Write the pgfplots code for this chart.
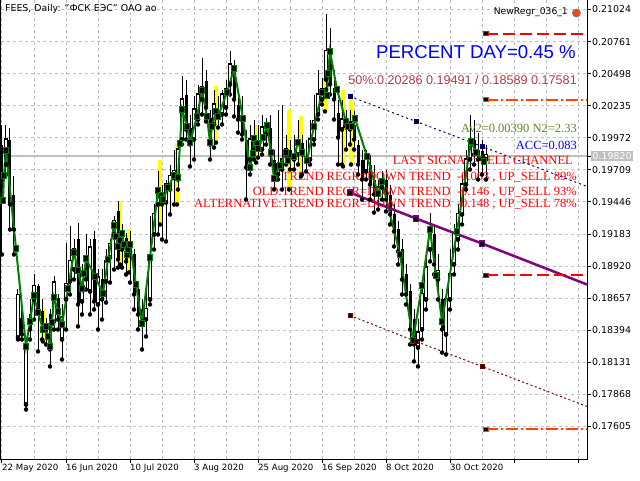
\documentclass[border=0pt]{standalone}
\usepackage{pgfplots}
\pgfplotsset{compat=1.18}
\usepackage{pgfplotstable}
\usepackage{fontspec}
\setmainfont{DejaVu Sans}
\newfontfamily\timesf{Liberation Serif}
\newfontfamily\arialf{Liberation Sans}

\definecolor{mtgrid}{RGB}{192,192,192}
\definecolor{mtgreen}{RGB}{0,128,0}
\definecolor{mtnavy}{RGB}{0,0,128}
\definecolor{mtpurple}{RGB}{128,0,128}
\definecolor{mtmaroon}{RGB}{128,0,0}
\definecolor{mtred}{RGB}{255,0,0}
\definecolor{mtorange}{RGB}{255,69,0}
\definecolor{mtbrown}{RGB}{176,58,72}
\definecolor{mtolive}{RGB}{90,140,30}
\definecolor{mtyellow}{RGB}{255,255,0}

% daily candles: bar index, open, high, low, close
\pgfplotstableread{
i o h l c
0 0.19917 0.20081 0.19015 0.19466
1 0.19753 0.20081 0.19671 0.19958
2 0.19958 0.20056 0.19220 0.19425
3 0.19507 0.19655 0.19015 0.19220
4 0.18334 0.18728 0.18318 0.18679
5 0.18498 0.18646 0.18318 0.18359
6 0.17785 0.18293 0.17744 0.18277
7 0.18523 0.18646 0.18318 0.18400
8 0.18646 0.18851 0.18482 0.18753
9 0.18753 0.18769 0.18220 0.18564
10 0.18548 0.18646 0.18318 0.18400
11 0.18441 0.18498 0.18277 0.18400
12 0.18523 0.18564 0.18097 0.18236
13 0.18466 0.18835 0.18400 0.18785
14 0.18662 0.18687 0.18400 0.18482
15 0.18318 0.18605 0.18154 0.18498
16 0.18646 0.19113 0.18400 0.18769
17 0.18794 0.19245 0.18687 0.18958
18 0.18892 0.19138 0.18810 0.19056
19 0.19138 0.19277 0.18425 0.18605
20 0.18630 0.18933 0.18523 0.18876
21 0.18974 0.19179 0.18728 0.18810
22 0.18712 0.19138 0.18523 0.19072
23 0.19138 0.19204 0.18564 0.18630
24 0.18605 0.18892 0.18400 0.18826
25 0.18810 0.18892 0.18482 0.18646
26 0.18794 0.19056 0.18621 0.18958
27 0.18990 0.19138 0.18785 0.19097
28 0.19179 0.19327 0.18892 0.19286
29 0.19368 0.19450 0.18908 0.18974
30 0.19056 0.19261 0.18908 0.19204
31 0.19154 0.19195 0.18851 0.18958
32 0.19040 0.19204 0.18785 0.19097
33 0.19015 0.19056 0.18564 0.18687
34 0.18728 0.18769 0.18400 0.18523
35 0.18564 0.18646 0.18236 0.18466
36 0.18482 0.18728 0.18343 0.18564
37 0.18646 0.19327 0.18605 0.18990
38 0.19179 0.19425 0.19056 0.19343
39 0.19425 0.19696 0.19179 0.19532
40 0.19482 0.19589 0.19138 0.19425
41 0.19441 0.19630 0.19122 0.19589
42 0.19548 0.19753 0.19343 0.19655
43 0.19646 0.19876 0.19425 0.19696
44 0.19630 0.19958 0.19548 0.19876
45 0.19958 0.20475 0.19917 0.20286
46 0.20327 0.20450 0.19958 0.20040
47 0.20056 0.20163 0.19737 0.19917
48 0.19958 0.20311 0.19794 0.20204
49 0.20122 0.20409 0.20081 0.20327
50 0.20286 0.20630 0.20163 0.20384
51 0.20434 0.20532 0.20106 0.20220
52 0.20138 0.20204 0.19794 0.19917
53 0.20081 0.20368 0.19892 0.20245
54 0.20204 0.20311 0.20056 0.20138
55 0.20163 0.20368 0.20081 0.20327
56 0.20220 0.20450 0.20163 0.20368
57 0.20409 0.20680 0.20327 0.20573
58 0.20532 0.20614 0.20147 0.20286
59 0.20245 0.20327 0.20015 0.20122
60 0.20163 0.20311 0.19958 0.19999
61 0.19958 0.20040 0.19466 0.19728
62 0.19794 0.20081 0.19671 0.19958
63 0.19876 0.20122 0.19794 0.19958
64 0.19958 0.20081 0.19810 0.19876
65 0.19876 0.20163 0.19835 0.20056
66 0.20056 0.20138 0.19917 0.19999
67 0.20056 0.20163 0.19753 0.19835
68 0.19794 0.19876 0.19548 0.19630
69 0.19671 0.20204 0.19630 0.19753
70 0.19712 0.20245 0.19548 0.19794
71 0.19835 0.19999 0.19753 0.19876
72 0.19876 0.19958 0.19712 0.19810
73 0.19794 0.19999 0.19712 0.19835
74 0.19835 0.20122 0.19753 0.19933
75 0.19933 0.19999 0.19671 0.19835
76 0.19794 0.19958 0.19696 0.19778
77 0.19794 0.20122 0.19753 0.19958
78 0.19958 0.20327 0.19917 0.20106
79 0.20163 0.20532 0.20122 0.20327
80 0.20286 0.20466 0.20245 0.20368
81 0.20450 0.20991 0.20368 0.20680
82 0.20696 0.20876 0.20327 0.20409
83 0.20384 0.20532 0.20122 0.20286
84 0.20179 0.20286 0.19753 0.19974
85 0.20040 0.20286 0.19753 0.20122
86 0.20081 0.20204 0.19876 0.20065
87 0.20106 0.20204 0.19917 0.20040
88 0.20081 0.20188 0.19876 0.19958
89 0.19917 0.19958 0.19671 0.19753
90 0.19794 0.19876 0.19466 0.19630
91 0.19696 0.19876 0.19630 0.19810
92 0.19753 0.19835 0.19466 0.19589
93 0.19630 0.19753 0.19359 0.19507
94 0.19507 0.19630 0.19384 0.19564
95 0.19564 0.19696 0.19466 0.19630
96 0.19630 0.19712 0.19368 0.19466
97 0.19507 0.19589 0.19261 0.19343
98 0.19343 0.19425 0.19081 0.19204
99 0.19220 0.19286 0.18933 0.19040
100 0.19056 0.19138 0.18687 0.18810
101 0.18851 0.18933 0.18605 0.18687
102 0.18712 0.18769 0.18277 0.18400
103 0.18482 0.18564 0.18138 0.18277
104 0.18252 0.18482 0.18097 0.18375
105 0.18400 0.18769 0.18318 0.18687
106 0.18646 0.19015 0.18564 0.18908
107 0.19056 0.19359 0.18958 0.19204
108 0.19179 0.19261 0.18851 0.18933
109 0.18810 0.19015 0.18646 0.18876
110 0.18646 0.18728 0.18211 0.18400
111 0.18359 0.18728 0.18195 0.18646
112 0.18646 0.19056 0.18564 0.18851
113 0.18933 0.19261 0.18851 0.19179
114 0.19138 0.19425 0.19056 0.19343
115 0.19343 0.19671 0.19261 0.19589
116 0.19589 0.19876 0.19548 0.19794
117 0.19794 0.20163 0.19712 0.19942
118 0.19958 0.20122 0.19753 0.19835
119 0.19876 0.20015 0.19630 0.19794
120 0.19860 0.19958 0.19671 0.19794
121 0.19794 0.19917 0.19630 0.19827
}\candles

% smoothing line (green, with square points)
\pgfplotstableread{
i p
0.25 0.19458
0.5 0.19663
1 0.19868
3.5 0.19064
6 0.18261
7 0.18466
8 0.18679
9 0.18539
10.25 0.18400
11 0.18425
11.5 0.18343
12 0.18261
12.5 0.18457
13 0.18662
14 0.18548
15 0.18441
16.5 0.18736
18 0.19031
19 0.18884
20 0.18736
20.5 0.18859
21 0.18982
23.25 0.18835
25.25 0.18695
26.5 0.18974
28 0.19253
28.5 0.19163
29 0.19081
29.5 0.19130
30 0.19187
30.5 0.19097
31.25 0.19015
31.5 0.19056
32 0.19097
33.5 0.18769
35 0.18449
37 0.18990
39 0.19540
39.75 0.19499
40.25 0.19466
41.5 0.19564
43 0.19663
44 0.19646
44.5 0.19925
45 0.20204
46.25 0.20065
47 0.19933
48.75 0.20147
50 0.20360
51.25 0.20147
52 0.19933
52.5 0.20065
53.5 0.20188
54 0.20147
56.25 0.20343
58 0.20540
60.25 0.20130
62 0.19728
62.75 0.19843
63 0.19966
63.75 0.19925
64 0.19884
65.25 0.19974
66.25 0.20073
67.25 0.19851
68 0.19638
69.5 0.19745
71 0.19851
71.5 0.19786
73 0.19819
74 0.19933
75 0.19851
76.25 0.19786
78 0.20065
80 0.20343
81.25 0.20319
81.5 0.20499
82 0.20680
83.75 0.20368
86 0.20106
86.5 0.20065
87.5 0.20065
88.25 0.20130
91.25 0.19819
94 0.19515
95 0.19614
99.5 0.19015
102.75 0.18310
105 0.18761
107 0.19220
108.5 0.18843
110 0.18466
113.75 0.19204
117.25 0.19942
118.5 0.19851
120.5 0.19778
}\smooth

% yellow histogram bars: position, low, high
\pgfplotstableread{
i lo hi
10.25 0.18302 0.18564
29.5 0.18933 0.19450
31.75 0.18868 0.19220
39.5 0.19261 0.19794
43.75 0.19425 0.19933
53.5 0.19933 0.20393
63.5 0.19769 0.20081
71.75 0.19548 0.20204
74.75 0.19655 0.20147
80.75 0.20188 0.20466
85.25 0.19737 0.20368
87.25 0.19753 0.20343
}\yellowbars

% 50% levels: start bar, end bar, price
\pgfplotstableread{
i p
121 0.20827
146.25 0.20827
}\levelA
\pgfplotstableread{
i p
121 0.18843
146.25 0.18843
}\levelB
\pgfplotstableread{
i p
121 0.20286
146.25 0.20286
}\levelC
\pgfplotstableread{
i p
121 0.17581
146.25 0.17581
}\levelD

\begin{document}
\begin{tikzpicture}
\path[use as bounding box] (0,0) rectangle (640pt,480pt);
\begin{axis}[
    at={(1pt,21pt)}, anchor=south west,
    scale only axis, width=586pt, height=459pt,
    xmin=-0.25, xmax=146.25, ymin=0.17338, ymax=0.21102,
    clip=false,
    axis line style={black, line width=1pt},
    tick align=outside, major tick length=4pt, minor tick length=0pt,
    tick style={black, line width=1pt},
    ytick pos=right, yticklabel pos=right, xtick pos=bottom,
    scaled y ticks=false,
    ytick={0.17605,0.17868,0.18131,0.18394,0.18657,0.18920,0.19183,0.19446,0.19709,0.19972,0.20235,0.20498,0.20761,0.21024},
    yticklabels={0.17605,0.17868,0.18131,0.18394,0.18657,0.18920,0.19183,0.19446,0.19709,0.19972,0.20235,0.20498,0.20761,0.21024},
    xtick={0,16,32,48,64,80,96,112,128,144},
    xticklabels={22 May 2020,16 Jun 2020,10 Jul 2020,3 Aug 2020,25 Aug 2020,16 Sep 2020,8 Oct 2020,30 Oct 2020,{},{}},
    minor xtick={8,24,40,56,72,88,104,120,136},
    grid=both,
    grid style={mtgrid, line width=1pt, dash pattern=on 3pt off 3pt},
    minor grid style={mtgrid, line width=1pt, dash pattern=on 3pt off 3pt},
    tick label style={font=\fontsize{9.4}{11}\selectfont, /pgf/number format/assume math mode=true},
    xticklabel style={anchor=north west, inner sep=1pt, xshift=-1pt, font=\fontsize{8.6}{10}\selectfont},
    yticklabel style={anchor=west, inner sep=1pt},
    extra y ticks={0.19820}, extra y tick labels={0.19820},
    extra y tick style={grid=none, yticklabel style={fill=mtgrid, text=white, inner sep=1.5pt}},
]
% current price line
\addplot[mtgrid, line width=1.8pt, forget plot] coordinates {(-0.25,0.19820) (146.25,0.19820)};

% yellow bars
\addplot[only marks, mark=none, forget plot,
    error bars/.cd, y dir=plus, y explicit, error mark=none,
    error bar style={line width=4pt, mtyellow}]
    table[x=i, y=lo, y error plus expr=\thisrow{hi}-\thisrow{lo}] {\yellowbars};

% wicks
\addplot[only marks, mark=none, forget plot,
    error bars/.cd, y dir=plus, y explicit, error mark=none,
    error bar style={line width=1pt, black}]
    table[x=i, y=l, y error plus expr=\thisrow{h}-\thisrow{l}] {\candles};
% bear bodies
\addplot[only marks, mark=none, forget plot,
    restrict expr to domain={\thisrow{o}-\thisrow{c}}{0:1},
    error bars/.cd, y dir=plus, y explicit, error mark=none,
    error bar style={line width=3pt, black}]
    table[x=i, y=c, y error plus expr=\thisrow{o}-\thisrow{c}] {\candles};
% bull bodies
\addplot[only marks, mark=none, forget plot,
    restrict expr to domain={\thisrow{c}-\thisrow{o}}{0.000001:1},
    error bars/.cd, y dir=plus, y explicit, error mark=none,
    error bar style={line width=3.2pt, black, line cap=rect}]
    table[x=i, y=o, y error plus expr=\thisrow{c}-\thisrow{o}] {\candles};
\addplot[only marks, mark=none, forget plot,
    restrict expr to domain={\thisrow{c}-\thisrow{o}}{0.000001:1},
    error bars/.cd, y dir=plus, y explicit, error mark=none,
    error bar style={line width=1.2pt, white}]
    table[x=i, y=o, y error plus expr=\thisrow{c}-\thisrow{o}] {\candles};

% green smoothing line
\addplot[mtgreen, line width=2pt, mark=square*, mark size=2.8pt,
    mark options={solid, fill=black, draw=mtgreen, line width=1pt}]
    table[x=i, y=p] {\smooth};

% regression channel
\addplot[mtnavy, line width=1pt, dash pattern=on 2pt off 3pt, mark=square*, mark size=2pt,
    mark indices={1,2,3}, mark options={solid, fill=black, draw=mtnavy, line width=1pt}]
    coordinates {(87,0.20311) (103.5,0.20106) (120,0.19901) (146.25,0.19573)};
\addplot[mtpurple, line width=2.5pt, mark=square*, mark size=2.6pt,
    mark indices={1,2,3}, mark options={solid, fill=black, draw=mtpurple, line width=1.2pt}]
    coordinates {(87,0.19523) (103.5,0.19310) (120,0.19105) (146.25,0.18769)};
\addplot[mtmaroon, line width=1pt, dash pattern=on 2pt off 2.5pt, mark=square*, mark size=2pt,
    mark indices={1,2,3}, mark options={solid, fill=black, draw=mtmaroon, line width=1pt}]
    coordinates {(87,0.18515) (103.5,0.18302) (120,0.18097) (146.25,0.17769)};

% 50% levels: lines first, then the start squares
\addplot[draw=mtred, line width=2pt, dash pattern=on 12pt off 5pt, forget plot] table[x=i, y=p] {\levelA};
\addplot[draw=mtred, line width=2pt, dash pattern=on 12pt off 5pt, forget plot] table[x=i, y=p] {\levelB};
\addplot[draw=mtorange, line width=2pt, dash pattern=on 12pt off 3pt on 2pt off 3pt, forget plot] table[x=i, y=p] {\levelC};
\addplot[draw=mtorange, line width=2pt, dash pattern=on 12pt off 3pt on 2pt off 3pt, forget plot] table[x=i, y=p] {\levelD};
\addplot[only marks, mark=square*, mark size=2.2pt, mark indices={1}, mark options={fill=black, draw=mtred, line width=1pt}, forget plot] table[x=i, y=p] {\levelA};
\addplot[only marks, mark=square*, mark size=2.2pt, mark indices={1}, mark options={fill=black, draw=mtred, line width=1pt}, forget plot] table[x=i, y=p] {\levelB};
\addplot[only marks, mark=square*, mark size=2.2pt, mark indices={1}, mark options={fill=black, draw=mtorange, line width=1pt}, forget plot] table[x=i, y=p] {\levelC};
\addplot[only marks, mark=square*, mark size=2.2pt, mark indices={1}, mark options={fill=black, draw=mtorange, line width=1pt}, forget plot] table[x=i, y=p] {\levelD};

% texts
\node[anchor=west, inner sep=0pt, font=\fontsize{9.4}{11}\selectfont] at (axis cs:0.75,0.21032) {FEES, Daily: "ФСК ЕЭС" ОАО ао};
\node[anchor=east, inner sep=0pt, font=\fontsize{9.2}{11}\selectfont] at (axis cs:141.5,0.20999) {NewRegr\_036\_1};
\node[circle, fill=mtorange, draw=gray, line width=0.8pt, minimum size=8pt, inner sep=0pt] at (axis cs:143.6,0.20995) {};
\node[anchor=east, inner sep=0pt, text=blue, font=\arialf\fontsize{18.6}{20}\selectfont] at (axis cs:143.5,0.20671) {PERCENT DAY=0.45 \%};
\node[anchor=east, inner sep=0pt, text=mtbrown, font=\arialf\fontsize{12.6}{14}\selectfont] at (axis cs:143.75,0.20446) {50\%:0.20286 0.19491 / 0.18589 0.17581};
\node[anchor=east, inner sep=0pt, text=mtolive, font=\timesf\fontsize{12.5}{14}\selectfont] at (axis cs:143.75,0.20052) {Av2=0.00390 N2=2.33};
\node[anchor=east, inner sep=0pt, text=blue, font=\timesf\fontsize{12.5}{14}\selectfont] at (axis cs:143.75,0.19913) {ACC=0.083};
\node[anchor=east, inner sep=0pt, text=mtred, font=\timesf\fontsize{12.5}{14}\selectfont] at (axis cs:142.75,0.19790) {LAST SIGNAL=SELL CHANNEL};
\node[anchor=east, inner sep=0pt, text=mtred, font=\timesf\fontsize{12.5}{14}\selectfont] at (axis cs:143.75,0.19646) {TREND REGR=DOWN TREND \ -0.063 , UP\_SELL 89\%};
\node[anchor=east, inner sep=0pt, text=mtred, font=\timesf\fontsize{12.5}{14}\selectfont] at (axis cs:143.75,0.19528) {OLD:TREND REGR=DOWN TREND \ -0.146 , UP\_SELL 93\%};
\node[anchor=east, inner sep=0pt, text=mtred, font=\timesf\fontsize{12.5}{14}\selectfont] at (axis cs:143.75,0.19429) {ALTERNATIVE:TREND REGR=DOWN TREND \ -0.148 , UP\_SELL 78\%};
\end{axis}
\end{tikzpicture}
\end{document}
